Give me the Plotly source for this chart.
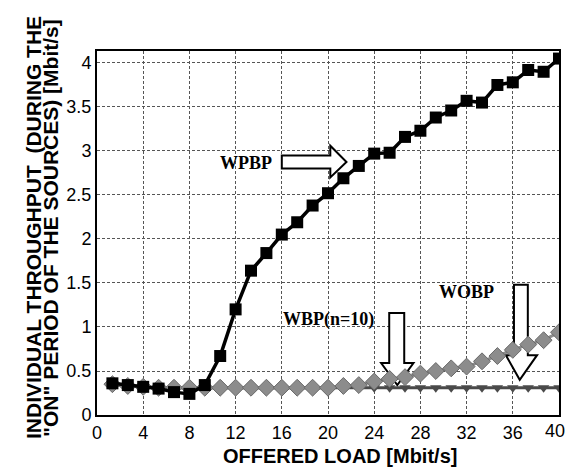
import plotly.graph_objects as go

# ---- data ----
offered_load = [round(4 * k / 3, 3) for k in range(1, 31)]  # 1.33 ... 40

wpbp = [0.36, 0.34, 0.32, 0.30, 0.26, 0.24, 0.34, 0.67, 1.20, 1.64,
        1.84, 2.05, 2.19, 2.38, 2.52, 2.69, 2.83, 2.97, 2.98, 3.16,
        3.23, 3.38, 3.46, 3.57, 3.55, 3.75, 3.78, 3.92, 3.90, 4.05]

wbp_n10 = [0.35, 0.33, 0.32, 0.31, 0.31, 0.31, 0.31, 0.31, 0.31, 0.31,
           0.31, 0.31, 0.31, 0.31, 0.31, 0.33, 0.34, 0.38, 0.41, 0.43,
           0.47, 0.50, 0.53, 0.55, 0.61, 0.67, 0.74, 0.80, 0.85, 0.94]

wobp = [0.34, 0.33, 0.32, 0.31, 0.31, 0.31, 0.31, 0.31, 0.31, 0.31,
        0.31, 0.31, 0.31, 0.31, 0.31, 0.31, 0.31, 0.31, 0.31, 0.31,
        0.31, 0.31, 0.31, 0.31, 0.31, 0.31, 0.31, 0.31, 0.31, 0.31]

x_ticks = [0, 4, 8, 12, 16, 20, 24, 28, 32, 36, 40]
y_ticks = [0, 0.5, 1, 1.5, 2, 2.5, 3, 3.5, 4]
y_tick_text = ["0", "0.5", "1", "1.5", "2", "2.5", "3", "3.5", "4"]

y_title_lines = ["INDIVIDUAL THROUGHPUT  (DURING THE",
                 "\"ON\" PERIOD OF THE SOURCES) [Mbit/s]"]
x_title = "OFFERED LOAD [Mbit/s]"

# ---- figure ----
fig = go.Figure()

fig.add_trace(go.Scatter(
    x=offered_load, y=wobp, mode="lines+markers", name="WOBP",
    line=dict(color="#4a4a4a", width=3),
    marker=dict(symbol="triangle-down", size=10, color="#4a4a4a"),
))
fig.add_trace(go.Scatter(
    x=offered_load, y=wbp_n10, mode="lines+markers", name="WBP(n=10)",
    line=dict(color="#8c8c8c", width=3),
    marker=dict(symbol="diamond", size=13, color="#8c8c8c",
                line=dict(color="#6a6a6a", width=1)),
))
fig.add_trace(go.Scatter(
    x=offered_load, y=wpbp, mode="lines+markers", name="WPBP",
    line=dict(color="black", width=3.5),
    marker=dict(symbol="square", size=12, color="black"),
))


def arrow_path(pts):
    return "M " + " L ".join(f"{x},{y}" for x, y in pts) + " Z"


# hollow block arrows (annotation decorations)
arrow_right = [(16.0, 2.95), (20.2, 2.95), (20.2, 3.06), (21.6, 2.875),
               (20.2, 2.70), (20.2, 2.80), (16.0, 2.80)]
arrow_wbp = [(25.3, 1.16), (26.6, 1.16), (26.6, 0.59), (27.4, 0.59),
             (26.0, 0.34), (24.6, 0.59), (25.3, 0.59)]
arrow_wobp = [(36.1, 1.48), (37.3, 1.48), (37.3, 0.68), (38.1, 0.68),
              (36.6, 0.40), (35.4, 0.68), (36.1, 0.68)]
for pts in (arrow_right, arrow_wbp, arrow_wobp):
    fig.add_shape(type="path", path=arrow_path(pts), xref="x", yref="y",
                  fillcolor="white", line=dict(color="black", width=2),
                  layer="between")

serif = "Liberation Serif"
sans = "Liberation Sans"
fig.add_annotation(x=15.3, y=2.86, xref="x", yref="y", text="<b>WPBP</b>",
                   showarrow=False, xanchor="right", yanchor="middle",
                   font=dict(family=serif, size=18, color="black"))
fig.add_annotation(x=15.9, y=1.08, xref="x", yref="y", text="<b>WBP(n=10)</b>",
                   showarrow=False, xanchor="left", yanchor="middle",
                   font=dict(family=serif, size=18, color="black"))
fig.add_annotation(x=29.4, y=1.40, xref="x", yref="y", text="<b>WOBP</b>",
                   showarrow=False, xanchor="left", yanchor="middle",
                   font=dict(family=serif, size=18, color="black"))

# axis titles as annotations (two tightly spaced lines on y)
for line_text, px in zip(y_title_lines, (33, 50)):
    fig.add_annotation(x=(px - 97) / 462, y=(415 - 228) / 364, xref="paper", yref="paper",
                       text=f"<b>{line_text}</b>",
                       showarrow=False, textangle=-90, xanchor="center", yanchor="middle",
                       font=dict(family=sans, size=21, color="black"))
fig.add_annotation(x=(340 - 97) / 462, y=-(456 - 415) / 364, xref="paper", yref="paper",
                   text=f"<b>{x_title}</b>",
                   showarrow=False, xanchor="center", yanchor="middle",
                   font=dict(family=sans, size=20, color="black"))

# last x tick label kept inside the page edge
x_tick_text = [str(v) for v in x_ticks]
last_label = x_tick_text[-1]
x_tick_text[-1] = ""
fig.add_annotation(x=1.0, y=0, xref="paper", yref="paper", text=last_label,
                   showarrow=False, xanchor="right", yanchor="top", xshift=8, yshift=-4,
                   font=dict(family=sans, size=18, color="black"))

grid = dict(showgrid=True, gridcolor="#555555", gridwidth=1, griddash="3px,2px")
fig.update_xaxes(range=[0, 40], tickvals=x_ticks, ticktext=x_tick_text,
                 showline=True, linecolor="black", linewidth=2, mirror=True,
                 zeroline=False, ticks="", automargin=False,
                 tickfont=dict(family=sans, size=18, color="black"),
                 **grid)
fig.update_yaxes(range=[0, 4.136], tickvals=y_ticks, ticktext=y_tick_text,
                 showline=True, linecolor="black", linewidth=2, mirror=True,
                 zeroline=False, ticks="", automargin=False,
                 tickfont=dict(family=sans, size=18, color="black"),
                 **grid)

fig.update_layout(
    width=567, height=468,
    margin=dict(l=97, r=8, t=51, b=53, autoexpand=False),
    plot_bgcolor="white", paper_bgcolor="white",
    showlegend=False,
)

fig.write_html("out.html")
